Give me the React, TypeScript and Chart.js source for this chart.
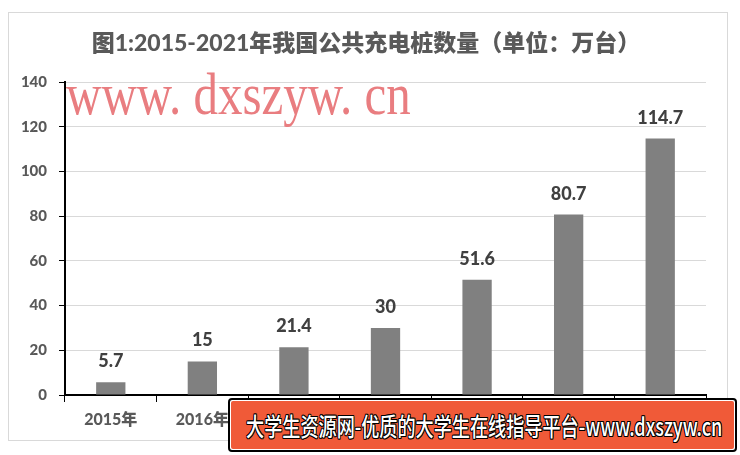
import React, { useEffect, useRef } from "react";
import { Chart, registerables } from "chart.js";

Chart.register(...registerables);

const categories = ["2015年", "2016年", "2017年", "2018年", "2019年", "2020年", "2021年"];
const values = [5.7, 15, 21.4, 30, 51.6, 80.7, 114.7];
const valueLabels = ["5.7", "15", "21.4", "30", "51.6", "80.7", "114.7"];
const yTicks = [0, 20, 40, 60, 80, 100, 120, 140];
const titleText = "图1:2015-2021年我国公共充电桩数量（单位：万台）";
const watermarkText = "www. dxszyw. cn";
const bannerText = "大学生资源网-优质的大学生在线指导平台-www.dxszyw.cn";

const FONT = 'Lato, "Noto Sans CJK SC", sans-serif';

const valueLabelPlugin = {
  id: "valueLabels",
  afterDatasetsDraw(chart: any) {
    const ctx = chart.ctx;
    const meta = chart.getDatasetMeta(0);
    ctx.save();
    ctx.font = `900 18px ${FONT}`;
    ctx.fillStyle = "#404040";
    ctx.textAlign = "center";
    ctx.textBaseline = "alphabetic";
    meta.data.forEach((bar: any, i: number) => {
      ctx.fillText(valueLabels[i], bar.x, bar.y - 15);
    });
    ctx.restore();
  },
};

export default function App() {
  const canvasRef = useRef<HTMLCanvasElement | null>(null);

  useEffect(() => {
    document.body.style.margin = "0";
    const canvas = canvasRef.current;
    if (!canvas) return;
    const chart = new Chart(canvas, {
      type: "bar",
      data: {
        labels: categories,
        datasets: [
          {
            data: values,
            backgroundColor: "#808080",
            borderWidth: 0,
            categoryPercentage: 1,
            barPercentage: 0.32,
          },
        ],
      },
      options: {
        animation: false,
        responsive: false,
        devicePixelRatio: 1,
        layout: { padding: { top: 82, right: 34, bottom: 0, left: 0 } },
        plugins: {
          legend: { display: false },
          title: { display: false },
          tooltip: { enabled: false },
        },
        scales: {
          x: {
            grid: {
              display: true,
              drawOnChartArea: false,
              drawTicks: true,
              tickLength: 7,
              tickColor: "#000000",
              offset: true,
            },
            border: { display: true, color: "#000000", width: 2 },
            ticks: {
              color: "#595959",
              font: { family: FONT, size: 16, weight: "900" },
              padding: 8,
              maxRotation: 0,
            },
            afterFit(scale: any) {
              scale.height = 60;
            },
          },
          y: {
            min: 0,
            max: 140,
            afterBuildTicks(scale: any) {
              scale.ticks = yTicks.map((v) => ({ value: v }));
            },
            grid: {
              color: "#d9d9d9",
              lineWidth: 1,
              drawTicks: true,
              tickLength: 6,
              tickColor: "#000000",
            },
            border: { display: true, color: "#000000", width: 2 },
            ticks: {
              color: "#595959",
              font: { family: FONT, size: 15, weight: "900" },
              padding: 12,
            },
            afterFit(scale: any) {
              scale.width = 65;
            },
          },
        },
      },
      plugins: [valueLabelPlugin],
    } as any);
    return () => chart.destroy();
  }, []);

  return (
    <div style={{ position: "relative", width: 740, height: 455, background: "#fff", overflow: "hidden" }}>
      <div
        style={{
          position: "absolute",
          left: 8,
          top: 12,
          width: 720,
          height: 429,
          border: "1px solid #d9d9d9",
          boxSizing: "border-box",
        }}
      />
      <canvas ref={canvasRef} width={740} height={455} style={{ position: "absolute", left: 0, top: 0 }} />
      <div
        style={{
          position: "absolute",
          left: 0,
          width: 732,
          top: 26,
          textAlign: "center",
          fontFamily: FONT,
          fontWeight: 900,
          fontSize: 23,
          color: "#595959",
          lineHeight: "32px",
          whiteSpace: "nowrap",
        }}
      >
        {titleText}
      </div>
      <div
        style={{
          position: "absolute",
          left: 66,
          top: 66,
          fontFamily: '"Liberation Serif", serif',
          fontSize: 49,
          lineHeight: "48px",
          color: "#e97d80",
          whiteSpace: "nowrap",
          transform: "scaleY(1.2)",
          transformOrigin: "left top",
        }}
      >
        {watermarkText}
      </div>
      <div
        style={{
          position: "absolute",
          left: 228,
          top: 398,
          width: 509,
          height: 54,
          boxSizing: "border-box",
          border: "2px solid #000",
          borderRadius: 4,
          background: "#fff",
          padding: 1,
        }}
      >
        <div
          style={{
            width: "100%",
            height: "100%",
            background: "#f05a38",
            borderRadius: 2,
            position: "relative",
            overflow: "hidden",
          }}
        >
          <div
            style={{
              position: "absolute",
              left: 15,
              top: 9,
              fontFamily: '"Noto Sans CJK SC", sans-serif',
              fontWeight: 500,
              fontSize: 25,
              lineHeight: "30px",
              color: "#fff",
              whiteSpace: "nowrap",
              transform: "scaleX(0.725)",
              transformOrigin: "left top",
              textShadow:
                "1px 0 0 #000, -1px 0 0 #000, 0 1px 0 #000, 0 -1px 0 #000, 1px 1px 0 #000, -1px -1px 0 #000, 1px -1px 0 #000, -1px 1px 0 #000",
            }}
          >
            {bannerText}
          </div>
        </div>
      </div>
    </div>
  );
}
